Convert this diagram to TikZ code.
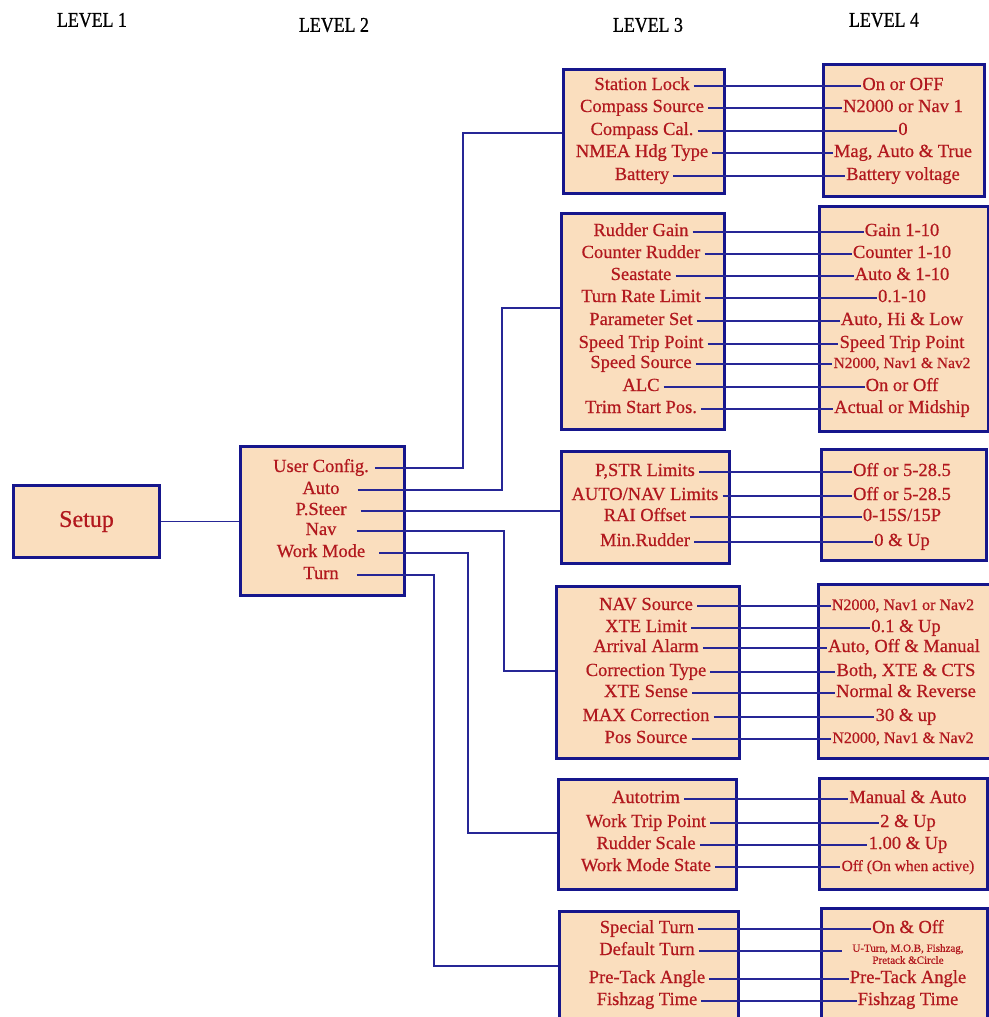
\documentclass[tikz,border=0pt]{standalone}
\usepackage{fontspec}
\setmainfont{Liberation Serif}[FakeBold=0.6]
\newfontfamily\hdfont{Liberation Serif}[FakeStretch=0.85,FakeBold=0.8]
\definecolor{txtred}{RGB}{178,24,30}
\definecolor{bordblue}{RGB}{22,22,140}
\definecolor{connblue}{RGB}{38,38,150}
\definecolor{peach}{RGB}{250,222,190}
\tikzset{
  box/.style={draw=bordblue, line width=3pt, fill=peach, inner sep=0pt, anchor=north west},
  it/.style={inner sep=0pt, text=txtred, font=\fontsize{18.5}{20}\selectfont, text height=12pt, text depth=4pt},
  lvl/.style={inner sep=0pt, text=black, font=\hdfont\fontsize{21}{23}\selectfont},
  conn/.style={draw=connblue, line width=1.6pt}
}
\newcommand\pairrow[6]{%
  \node[it] (#1a) at (#3,#2) {#4};
  \node[it] (#1b) at (#5,#2) {#6};
  \draw[conn] ([xshift=4pt]#1a.east) -- ([xshift=-1pt]#1b.west);
}
\begin{document}
\begin{tikzpicture}[x=1pt,y=-1pt]
\useasboundingbox (0,0) rectangle (988,1017);
\fill[white] (0,0) rectangle (988,1017);

% headers
\node[lvl] (h1) at (92,20) {LEVEL 1};
\node[lvl] (h2) at (334,25) {LEVEL 2};
\node[lvl] (h3) at (648,25) {LEVEL 3};
\node[lvl] (h4) at (884,20) {LEVEL 4};

% boxes
\node[box, minimum width=146, minimum height=72] (S) at (12,484) {};
\node[text=txtred, font=\fontsize{24}{26}\selectfont, inner sep=0pt] (St) at (S.center) {Setup};
\node[box, minimum width=164, minimum height=149] (L2) at (239,445) {};

\node[box, minimum width=161, minimum height=124] (B1) at (562,68) {};
\node[box, minimum width=163, minimum height=216] (B2) at (560,212) {};
\node[box, minimum width=168, minimum height=112] (B3) at (560,450) {};
\node[box, minimum width=183, minimum height=172] (B4) at (555,585) {};
\node[box, minimum width=178, minimum height=110] (B5) at (557,778) {};
\node[box, minimum width=179, minimum height=125] (B6) at (558,910) {};

\node[box, minimum width=161, minimum height=132] (C1) at (822,63) {};
\node[box, minimum width=169, minimum height=225] (C2) at (818,205) {};
\node[box, minimum width=165, minimum height=111] (C3) at (820,448) {};
\node[box, minimum width=193, minimum height=174] (C4) at (817,583) {};
\node[box, minimum width=168, minimum height=111] (C5) at (818,777) {};
\node[box, minimum width=166, minimum height=125] (C6) at (820,907) {};

% level 2 items
\node[it] (u1) at (321,468) {User Config.};
\node[it] (u2) at (321,490) {Auto};
\node[it] (u3) at (321,511) {P.Steer};
\node[it] (u4) at (321,531) {Nav};
\node[it] (u5) at (321,553) {Work Mode};
\node[it] (u6) at (321,575) {Turn};

\draw[conn] (S.east) -- (S.east -| L2.west);

\coordinate (k1) at (463,133);
\coordinate (k2) at (502,308);
\coordinate (k4) at (504,671);
\coordinate (k5) at (468,833);
\coordinate (k6) at (434,966);
\draw[conn] ([xshift=6pt]u1.east) -| (k1) -- (k1 -| B1.west);
\draw[conn] ([xshift=18pt]u2.east) -| (k2) -- (k2 -| B2.west);
\draw[conn] ([xshift=14pt]u3.east) -- (u3.east -| B3.west);
\draw[conn] ([xshift=20pt]u4.east) -| (k4) -- (k4 -| B4.west);
\draw[conn] ([xshift=14pt]u5.east) -| (k5) -- (k5 -| B5.west);
\draw[conn] ([xshift=18pt]u6.east) -| (k6) -- (k6 -| B6.west);

% B1 / C1
\pairrow{p11}{86}{642}{Station Lock}{903}{On or OFF}
\pairrow{p12}{108}{642}{Compass Source}{903}{N2000 or Nav 1}
\pairrow{p13}{131}{642}{Compass Cal.}{903}{0}
\pairrow{p14}{153}{642}{NMEA Hdg Type}{903}{Mag, Auto \& True}
\pairrow{p15}{176}{642}{Battery}{903}{Battery voltage}

% B2 / C2
\pairrow{p21}{232}{641}{Rudder Gain}{902}{Gain 1-10}
\pairrow{p22}{254}{641}{Counter Rudder}{902}{Counter 1-10}
\pairrow{p23}{276}{641}{Seastate}{902}{Auto \& 1-10}
\pairrow{p24}{298}{641}{Turn Rate Limit}{902}{0.1-10}
\pairrow{p25}{321}{641}{Parameter Set}{902}{Auto, Hi \& Low}
\pairrow{p26}{344}{641}{Speed Trip Point}{902}{Speed Trip Point}
\pairrow{p27}{364}{641}{Speed Source}{902}{{\fontsize{15.5}{17}\selectfont N2000, Nav1 \& Nav2}}
\pairrow{p28}{387}{641}{ALC}{902}{On or Off}
\pairrow{p29}{409}{641}{Trim Start Pos.}{902}{Actual or Midship}

% B3 / C3
\pairrow{p31}{472}{645}{P,STR Limits}{902}{Off or 5-28.5}
\pairrow{p32}{496}{645}{AUTO/NAV Limits}{902}{Off or 5-28.5}
\pairrow{p33}{517}{645}{RAI Offset}{902}{0-15S/15P}
\pairrow{p34}{542}{645}{Min.Rudder}{902}{0 \& Up}

% B4 / C4
\pairrow{p41}{606}{646}{NAV Source}{903}{{\fontsize{16}{18}\selectfont N2000, Nav1 or Nav2}}
\pairrow{p42}{628}{646}{XTE Limit}{906}{0.1 \& Up}
\pairrow{p43}{648}{646}{Arrival Alarm}{904}{Auto, Off \& Manual}
\pairrow{p44}{672}{646}{Correction Type}{906}{Both, XTE \& CTS}
\pairrow{p45}{693}{646}{XTE Sense}{906}{Normal \& Reverse}
\pairrow{p46}{717}{646}{MAX Correction}{906}{30 \& up}
\pairrow{p47}{739}{646}{Pos Source}{903}{{\fontsize{16}{18}\selectfont N2000, Nav1 \& Nav2}}

% B5 / C5
\pairrow{p51}{799}{646}{Autotrim}{908}{Manual \& Auto}
\pairrow{p52}{823}{646}{Work Trip Point}{908}{2 \& Up}
\pairrow{p53}{845}{646}{Rudder Scale}{908}{1.00 \& Up}
\pairrow{p54}{867}{646}{Work Mode State}{908}{{\fontsize{15.5}{17}\selectfont Off (On when active)}}

% B6 / C6
\pairrow{p61}{929}{647}{Special Turn}{908}{On \& Off}
\node[it] (p62a) at (647,951) {Default Turn};
\node[inner sep=0pt, text=txtred, font=\fontsize{11}{12}\selectfont, align=center] (p62b) at (908,954) {U-Turn, M.O.B, Fishzag,\\Pretack \&Circle};
\draw[conn] ([xshift=4pt]p62a.east) -- ([xshift=-10pt]p62b.west |- p62a.east);
\pairrow{p63}{979}{647}{Pre-Tack Angle}{908}{Pre-Tack Angle}
\pairrow{p64}{1001}{647}{Fishzag Time}{908}{Fishzag Time}
\end{tikzpicture}
\end{document}
